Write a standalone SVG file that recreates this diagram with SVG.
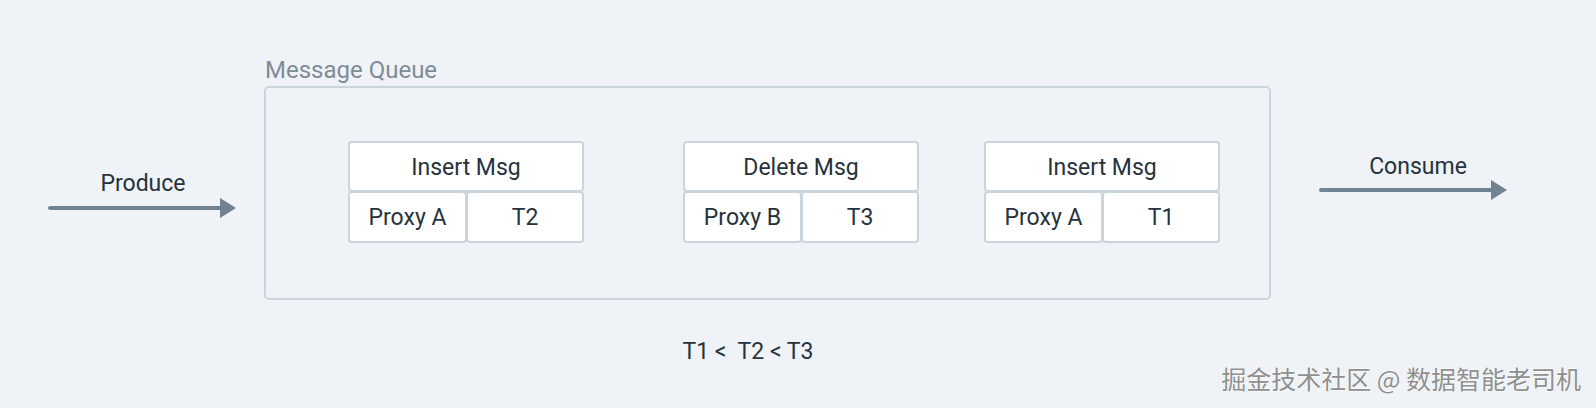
<svg xmlns="http://www.w3.org/2000/svg" width="1596" height="408" viewBox="0 0 1596 408">
<defs>
<style>
.t{font-family:Roboto,"Noto Sans",sans-serif;font-size:23px;fill:#26323c;text-anchor:middle}
.lbl{font-family:Roboto,"Noto Sans",sans-serif;font-size:24px;fill:#7f8c97}
.cell{fill:#ffffff;stroke:#c9d4dc;stroke-width:2}
.frame{fill:none;stroke:#c9d4dc;stroke-width:2}
.arr{stroke:#718292;stroke-width:4;stroke-linecap:round;fill:none}
.wm{font-family:"Noto Sans CJK SC",sans-serif;font-size:25px;fill:#8f8f8f;stroke:#ffffff;stroke-width:0.8;paint-order:stroke}
</style>
<marker id="ah" markerWidth="5" markerHeight="5" refX="1" refY="2.5" orient="auto" markerUnits="strokeWidth">
<path d="M0,0 L4,2.5 L0,5 z" fill="#718292"/>
</marker>
</defs>
<rect width="1596" height="408" fill="#eff3f7"/>
<g id="queue">
<text class="lbl" x="265" y="78">Message Queue</text>
<rect class="frame" x="265" y="87" width="1005" height="212" rx="4"/>
</g>
<g id="node1">
<rect class="cell" x="349" y="142" width="234" height="49" rx="3"/>
<rect class="cell" x="349" y="192" width="117" height="50" rx="3"/>
<rect class="cell" x="467" y="192" width="116" height="50" rx="3"/>
<text class="t" x="466" y="174.5">Insert Msg</text>
<text class="t" x="407.5" y="225">Proxy A</text>
<text class="t" x="525" y="225">T2</text>
</g>
<g id="node2">
<rect class="cell" x="684" y="142" width="234" height="49" rx="3"/>
<rect class="cell" x="684" y="192" width="117" height="50" rx="3"/>
<rect class="cell" x="802" y="192" width="116" height="50" rx="3"/>
<text class="t" x="801" y="174.5">Delete Msg</text>
<text class="t" x="742.5" y="225">Proxy B</text>
<text class="t" x="860" y="225">T3</text>
</g>
<g id="node3">
<rect class="cell" x="985" y="142" width="234" height="49" rx="3"/>
<rect class="cell" x="985" y="192" width="117" height="50" rx="3"/>
<rect class="cell" x="1103" y="192" width="116" height="50" rx="3"/>
<text class="t" x="1102" y="174.5">Insert Msg</text>
<text class="t" x="1043.5" y="225">Proxy A</text>
<text class="t" x="1161" y="225">T1</text>
</g>
<g id="connectors">
<line class="arr" x1="50" y1="208" x2="224" y2="208" marker-end="url(#ah)"/>
<text class="t" x="143" y="191">Produce</text>
<line class="arr" x1="1321" y1="190" x2="1495" y2="190" marker-end="url(#ah)"/>
<text class="t" x="1418" y="174">Consume</text>
</g>
<g id="note">
<text class="t" x="748" y="359" xml:space="preserve">T1 &lt;  T2 &lt; T3</text>
</g>
<text class="wm" x="1581" y="389" text-anchor="end">掘金技术社区 @ 数据智能老司机</text>
</svg>
